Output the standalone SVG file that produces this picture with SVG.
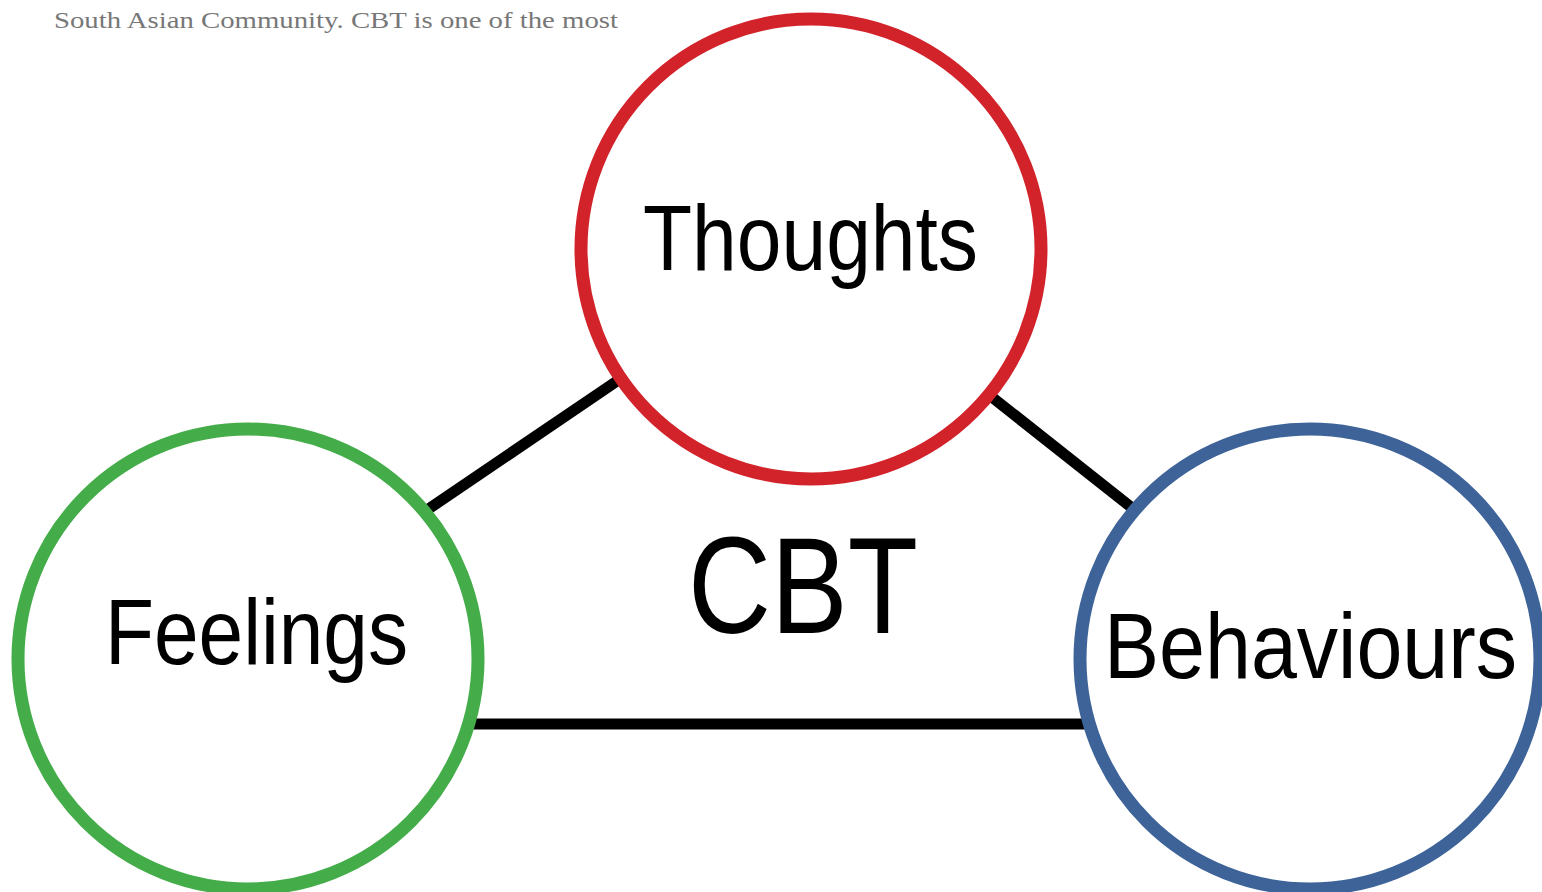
<svg xmlns="http://www.w3.org/2000/svg" width="1542" height="892" viewBox="0 0 1542 892">
<style>
.node{fill:#fff;stroke-width:13}
.lbl{font-family:"Liberation Sans","DejaVu Sans",sans-serif;fill:#000;font-size:84px}
.conn{stroke:#000;stroke-width:11;fill:none}
</style>
<rect width="1542" height="892" fill="#fff"/>
<text x="54" y="28" font-family="Liberation Serif,serif" font-size="24" fill="#777" textLength="564" lengthAdjust="spacingAndGlyphs">South Asian Community. CBT is one of the most</text>
<g id="connectors">
<line class="conn" x1="620" y1="379" x2="424" y2="512"/>
<line class="conn" x1="988" y1="394" x2="1136" y2="511"/>
<line class="conn" x1="470" y1="724" x2="1090" y2="724"/>
</g>
<g id="thoughts">
<circle class="node" cx="811" cy="249" r="230" stroke="#d2232b"/>
<text class="lbl" transform="translate(643,270) scale(1,1.1)" textLength="335" lengthAdjust="spacingAndGlyphs">Thoughts</text>
</g>
<g id="feelings">
<circle class="node" cx="248" cy="659" r="230" stroke="#44ad4a"/>
<text class="lbl" transform="translate(105,664) scale(1,1.1)" textLength="303" lengthAdjust="spacingAndGlyphs">Feelings</text>
</g>
<g id="behaviours">
<circle class="node" cx="1310" cy="659" r="230" stroke="#3d6399"/>
<text class="lbl" transform="translate(1104,678) scale(1,1.1)" textLength="413" lengthAdjust="spacingAndGlyphs">Behaviours</text>
</g>
<g id="cbt">
<text class="lbl" x="688" y="633" style="font-size:138px" textLength="230" lengthAdjust="spacingAndGlyphs">CBT</text>
</g>
</svg>
